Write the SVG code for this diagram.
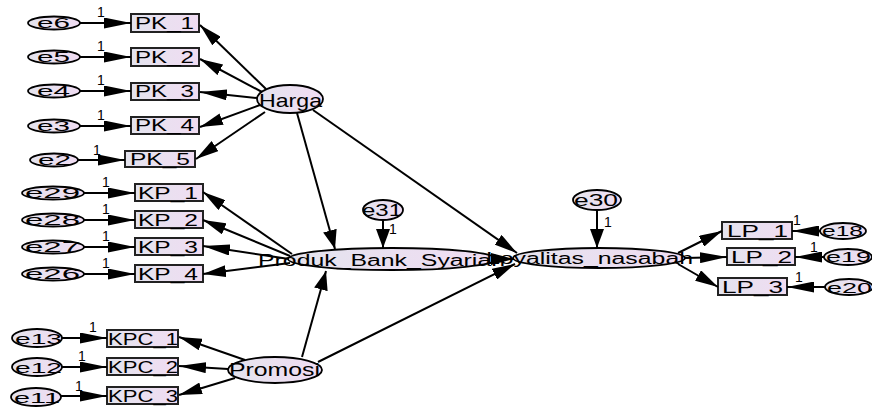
<svg xmlns="http://www.w3.org/2000/svg" width="872" height="410" viewBox="0 0 872 410">
<defs>
<linearGradient id="g" x1="0" y1="0" x2="1" y2="0">
<stop offset="0" stop-color="#e4e4ee"/>
<stop offset="1" stop-color="#f0dcf2"/>
</linearGradient>
<marker id="mh" markerUnits="userSpaceOnUse" markerWidth="27" markerHeight="11" refX="27" refY="5.5" orient="auto"><path d="M0,0 L27,5.5 L0,11 z" fill="#000"/></marker>
<marker id="md" markerUnits="userSpaceOnUse" markerWidth="23" markerHeight="12" refX="23" refY="6" orient="auto"><path d="M0,0 L23,6 L0,12 z" fill="#000"/></marker>
<marker id="mv" markerUnits="userSpaceOnUse" markerWidth="19" markerHeight="14" refX="19" refY="7" orient="auto"><path d="M0,0 L19,7 L0,14 z" fill="#000"/></marker>
</defs>
<style>
text{font-family:"Liberation Sans",Arial,sans-serif;fill:#000}
.n ellipse{fill:url(#g);stroke:#000;stroke-width:1.8}
.n rect{fill:url(#g);stroke:#222;stroke-width:2}
.et{font-size:14px}
.bt{font-size:16px}
.one{font-size:14px}
#c line{stroke:#000;stroke-width:2}
.h{marker-end:url(#mh)}
.d{marker-end:url(#md)}
.v{marker-end:url(#mv)}
</style>

<g id="Harga" class="n"><ellipse cx="290" cy="99" rx="33" ry="14"/><text x="259" y="106.5" style="font-size:19px" textLength="63" lengthAdjust="spacingAndGlyphs">Harga</text></g>
<g id="Produk_Bank_Syariah" class="n"><ellipse cx="392" cy="259" rx="104" ry="11"/><text x="258" y="266" style="font-size:16px" textLength="247" lengthAdjust="spacingAndGlyphs">Produk_Bank_Syariah</text></g>
<g id="Loyalitas_nasabah" class="n"><ellipse cx="599" cy="258" rx="86" ry="10"/><text x="486" y="264" style="font-size:16px" textLength="207" lengthAdjust="spacingAndGlyphs">Loyalitas_nasabah</text></g>
<g id="Promosi" class="n"><ellipse cx="275" cy="370" rx="47" ry="13"/><text x="229" y="376" style="font-size:18px" textLength="91" lengthAdjust="spacingAndGlyphs">Promosi</text></g>
<g id="e31" class="n"><ellipse cx="383" cy="210" rx="20" ry="10"/><text x="362" y="215.5" style="font-size:17px" textLength="40" lengthAdjust="spacingAndGlyphs">e31</text></g>
<g id="e30" class="n"><ellipse cx="597" cy="200" rx="24" ry="10"/><text x="574" y="205.5" style="font-size:17px" textLength="44" lengthAdjust="spacingAndGlyphs">e30</text></g>

<g id="PK_1" class="n"><rect x="131" y="14" width="68" height="18"/><text class="bt" x="135" y="28.5" textLength="59" lengthAdjust="spacingAndGlyphs">PK_1</text></g>
<g id="PK_2" class="n"><rect x="131" y="48" width="68" height="18"/><text class="bt" x="135" y="62.5" textLength="59" lengthAdjust="spacingAndGlyphs">PK_2</text></g>
<g id="PK_3" class="n"><rect x="131" y="83" width="68" height="17"/><text class="bt" x="135" y="97" textLength="59" lengthAdjust="spacingAndGlyphs">PK_3</text></g>
<g id="PK_4" class="n"><rect x="131" y="117" width="68" height="17"/><text class="bt" x="135" y="131" textLength="59" lengthAdjust="spacingAndGlyphs">PK_4</text></g>
<g id="PK_5" class="n"><rect x="125" y="151" width="70" height="16"/><text class="bt" x="130" y="164.5" textLength="60" lengthAdjust="spacingAndGlyphs">PK_5</text></g>

<g id="KP_1" class="n"><rect x="135" y="184" width="68" height="17"/><text class="bt" x="138" y="198.5" textLength="60" lengthAdjust="spacingAndGlyphs">KP_1</text></g>
<g id="KP_2" class="n"><rect x="135" y="211" width="68" height="17"/><text class="bt" x="138" y="225.5" textLength="60" lengthAdjust="spacingAndGlyphs">KP_2</text></g>
<g id="KP_3" class="n"><rect x="135" y="238" width="68" height="17"/><text class="bt" x="138" y="252.5" textLength="60" lengthAdjust="spacingAndGlyphs">KP_3</text></g>
<g id="KP_4" class="n"><rect x="135" y="265" width="68" height="17"/><text class="bt" x="138" y="279.5" textLength="60" lengthAdjust="spacingAndGlyphs">KP_4</text></g>

<g id="KPC_1" class="n"><rect x="107" y="330" width="71" height="17"/><text class="bt" x="108" y="344.5" textLength="70" lengthAdjust="spacingAndGlyphs">KPC_1</text></g>
<g id="KPC_2" class="n"><rect x="107" y="358" width="71" height="17"/><text class="bt" x="108" y="372.5" textLength="70" lengthAdjust="spacingAndGlyphs">KPC_2</text></g>
<g id="KPC_3" class="n"><rect x="107" y="387" width="71" height="17"/><text class="bt" x="108" y="401.5" textLength="70" lengthAdjust="spacingAndGlyphs">KPC_3</text></g>

<g id="LP_1" class="n"><rect x="722" y="222" width="70" height="17"/><text class="bt" x="727" y="236.5" textLength="61" lengthAdjust="spacingAndGlyphs">LP_1</text></g>
<g id="LP_2" class="n"><rect x="727" y="248" width="68" height="17"/><text class="bt" x="731" y="262.5" textLength="61" lengthAdjust="spacingAndGlyphs">LP_2</text></g>
<g id="LP_3" class="n"><rect x="718" y="278" width="69" height="17"/><text class="bt" x="722" y="292.5" textLength="61" lengthAdjust="spacingAndGlyphs">LP_3</text></g>

<g id="e6" class="n"><ellipse cx="54" cy="23" rx="26" ry="6.5"/><text class="et" x="37" y="28" textLength="33" lengthAdjust="spacingAndGlyphs">e6</text></g>
<g id="e5" class="n"><ellipse cx="54" cy="57" rx="26" ry="6.5"/><text class="et" x="37" y="62" textLength="33" lengthAdjust="spacingAndGlyphs">e5</text></g>
<g id="e4" class="n"><ellipse cx="54" cy="91" rx="26" ry="6.5"/><text class="et" x="37" y="96" textLength="33" lengthAdjust="spacingAndGlyphs">e4</text></g>
<g id="e3" class="n"><ellipse cx="54" cy="126" rx="26" ry="6.5"/><text class="et" x="37" y="131" textLength="33" lengthAdjust="spacingAndGlyphs">e3</text></g>
<g id="e2" class="n"><ellipse cx="54" cy="160" rx="24" ry="6.5"/><text class="et" x="38" y="165" textLength="33" lengthAdjust="spacingAndGlyphs">e2</text></g>

<g id="e29" class="n"><ellipse cx="53" cy="193" rx="31" ry="6.5"/><text class="et" x="25" y="198" textLength="55" lengthAdjust="spacingAndGlyphs">e29</text></g>
<g id="e28" class="n"><ellipse cx="53" cy="220" rx="31" ry="6.5"/><text class="et" x="25" y="225" textLength="55" lengthAdjust="spacingAndGlyphs">e28</text></g>
<g id="e27" class="n"><ellipse cx="53" cy="247" rx="31" ry="6.5"/><text class="et" x="25" y="252" textLength="55" lengthAdjust="spacingAndGlyphs">e27</text></g>
<g id="e26" class="n"><ellipse cx="53" cy="274" rx="31" ry="6.5"/><text class="et" x="25" y="279" textLength="55" lengthAdjust="spacingAndGlyphs">e26</text></g>

<g id="e13" class="n"><ellipse cx="37" cy="338" rx="25" ry="9"/><text x="15" y="343.5" style="font-size:15px" textLength="47" lengthAdjust="spacingAndGlyphs">e13</text></g>
<g id="e12" class="n"><ellipse cx="37" cy="367" rx="25" ry="9"/><text x="15" y="372.5" style="font-size:15px" textLength="47" lengthAdjust="spacingAndGlyphs">e12</text></g>
<g id="e11" class="n"><ellipse cx="36" cy="397" rx="25" ry="9"/><text x="14" y="402.5" style="font-size:15px" textLength="46" lengthAdjust="spacingAndGlyphs">e11</text></g>

<g id="e18" class="n"><ellipse cx="843" cy="231" rx="23" ry="8"/><text x="822" y="236" style="font-size:15px" textLength="41" lengthAdjust="spacingAndGlyphs">e18</text></g>
<g id="e19" class="n"><ellipse cx="848" cy="257" rx="24" ry="8"/><text x="826" y="262" style="font-size:15px" textLength="45" lengthAdjust="spacingAndGlyphs">e19</text></g>
<g id="e20" class="n"><ellipse cx="849" cy="287" rx="24" ry="8"/><text x="827" y="292.5" style="font-size:15px" textLength="45" lengthAdjust="spacingAndGlyphs">e20</text></g>

<g id="c">
<line class="h" x1="80" y1="23" x2="131" y2="23"/>
<line class="h" x1="80" y1="57" x2="131" y2="57"/>
<line class="h" x1="80" y1="91" x2="131" y2="91"/>
<line class="h" x1="80" y1="126" x2="131" y2="126"/>
<line class="h" x1="78" y1="160" x2="125" y2="160"/>
<line class="h" x1="84" y1="193" x2="135" y2="193"/>
<line class="h" x1="84" y1="220" x2="135" y2="220"/>
<line class="h" x1="84" y1="247" x2="135" y2="247"/>
<line class="h" x1="84" y1="274" x2="135" y2="274"/>
<line class="h" x1="62" y1="338" x2="107" y2="338"/>
<line class="h" x1="62" y1="367" x2="107" y2="367"/>
<line class="h" x1="61" y1="396" x2="107" y2="396"/>
<line class="h" x1="820" y1="231" x2="792" y2="231"/>
<line class="h" x1="824" y1="257" x2="795" y2="257"/>
<line class="h" x1="825" y1="287" x2="787" y2="287"/>

<line class="d" x1="266" y1="89" x2="200" y2="25"/>
<line class="d" x1="262" y1="92" x2="200" y2="59"/>
<line class="h" x1="257" y1="98" x2="200" y2="92"/>
<line class="d" x1="260" y1="105" x2="200" y2="127"/>
<line class="d" x1="265" y1="112" x2="196" y2="159"/>
<line class="v" x1="297" y1="113" x2="335" y2="249"/>
<line class="d" x1="313" y1="110" x2="517" y2="253"/>

<line class="d" x1="292" y1="254" x2="203" y2="192"/>
<line class="d" x1="290" y1="256" x2="203" y2="220"/>
<line class="h" x1="289" y1="259" x2="203" y2="246"/>
<line class="d" x1="290" y1="263" x2="203" y2="274"/>

<line class="v" x1="383" y1="220" x2="383" y2="248"/>
<line class="v" x1="597" y1="210" x2="597" y2="248"/>
<line class="v" x1="302" y1="357" x2="326" y2="271"/>
<line class="d" x1="318" y1="362" x2="515" y2="264"/>
<line class="d" x1="496" y1="259" x2="514" y2="259"/>

<line class="d" x1="245" y1="360" x2="179" y2="337"/>
<line class="h" x1="228" y1="369" x2="179" y2="366"/>
<line class="d" x1="235" y1="378" x2="179" y2="395"/>

<line class="d" x1="678" y1="253" x2="722" y2="231"/>
<line class="h" x1="685" y1="258" x2="727" y2="257"/>
<line class="d" x1="678" y1="264" x2="718" y2="287"/>

<text class="one" x="97" y="17">1</text>
<text class="one" x="97" y="51">1</text>
<text class="one" x="97" y="85">1</text>
<text class="one" x="97" y="120">1</text>
<text class="one" x="93" y="155">1</text>
<text class="one" x="102" y="187">1</text>
<text class="one" x="102" y="214">1</text>
<text class="one" x="102" y="241">1</text>
<text class="one" x="102" y="268">1</text>
<text class="one" x="89" y="332">1</text>
<text class="one" x="78" y="361">1</text>
<text class="one" x="75" y="391">1</text>
<text class="one" x="793" y="225">1</text>
<text class="one" x="810" y="252">1</text>
<text class="one" x="795" y="282">1</text>
<text class="one" x="389" y="234">1</text>
<text class="one" x="604" y="227">1</text>
</g>
</svg>
